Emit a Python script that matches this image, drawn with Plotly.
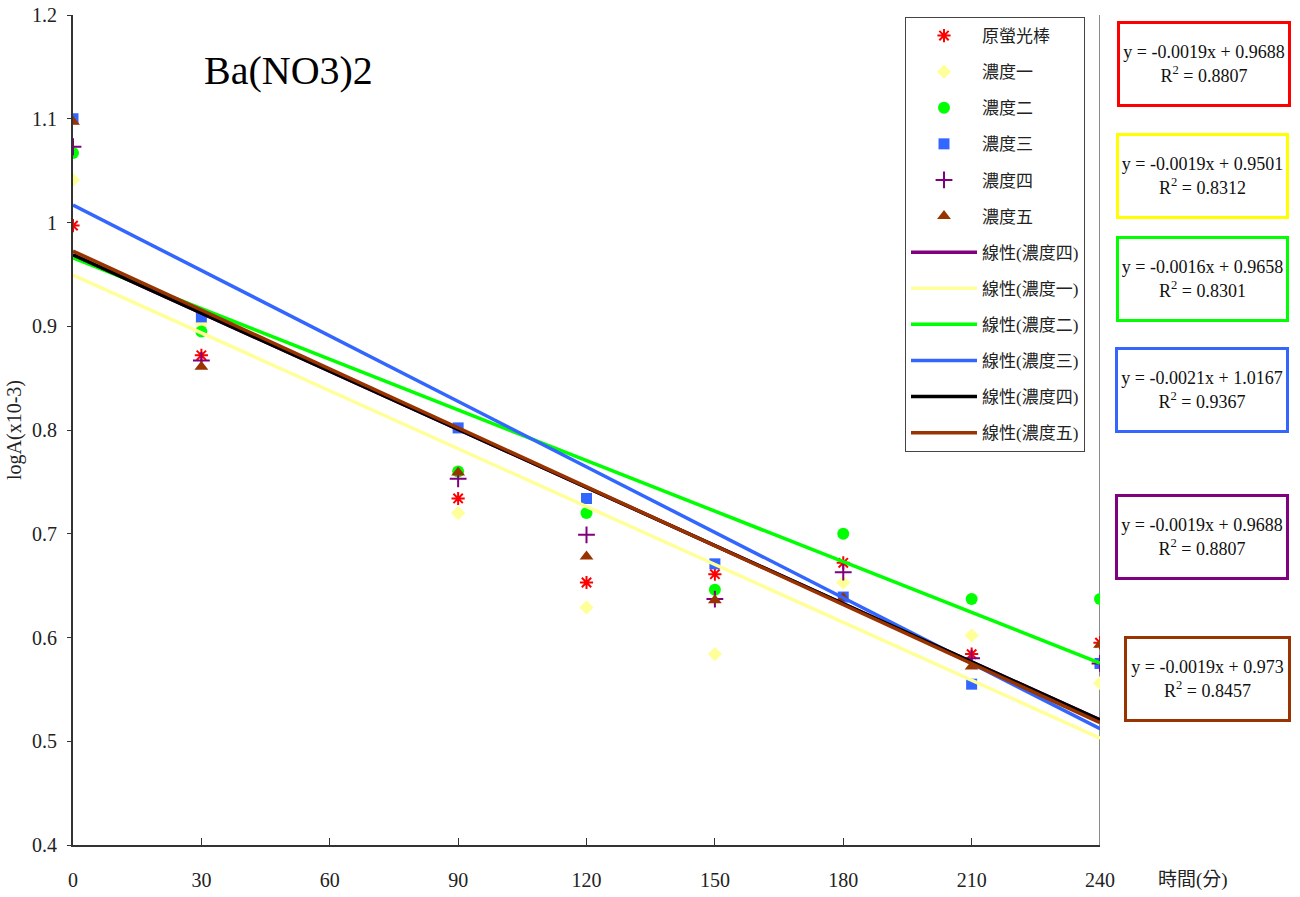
import plotly.graph_objects as go

# ---------------- data ----------------
times = [0, 30, 90, 120, 150, 180, 210, 240]
orig_glow = [0.997, 0.872, 0.734, 0.653, 0.661, 0.672, 0.584, 0.595]
conc1 = [1.041, 0.903, 0.720, 0.629, 0.584, 0.653, 0.602, 0.556]
conc2 = [1.067, 0.895, 0.760, 0.720, 0.646, 0.700, 0.637, 0.637]
conc3 = [1.100, 0.909, 0.802, 0.734, 0.671, 0.639, 0.555, 0.575]
conc4 = [1.073, 0.867, 0.753, 0.699, 0.637, 0.663, 0.580, 0.575]
conc5 = [1.097, 0.861, 0.759, 0.678, 0.636, 0.638, 0.572, 0.593]

trend_x = [0, 240]
trend_purple = [0.9688, 0.5205]
trend_yellow = [0.9494, 0.5030]
trend_green = [0.9658, 0.5754]
trend_blue = [1.0169, 0.5120]
trend_black = [0.9688, 0.5205]
trend_brown = [0.9725, 0.5180]

x_ticks = [0, 30, 60, 90, 120, 150, 180, 210, 240]
y_ticks = [0.4, 0.5, 0.6, 0.7, 0.8, 0.9, 1.0, 1.1, 1.2]
y_ticktext = ["0.4", "0.5", "0.6", "0.7", "0.8", "0.9", "1", "1.1", "1.2"]

eq_texts = [
    "y = -0.0019x + 0.9688<br>R<sup>2</sup> = 0.8807",
    "y = -0.0019x + 0.9501<br>R<sup>2</sup> = 0.8312",
    "y = -0.0016x + 0.9658<br>R<sup>2</sup> = 0.8301",
    "y = -0.0021x + 1.0167<br>R<sup>2</sup> = 0.9367",
    "y = -0.0019x + 0.9688<br>R<sup>2</sup> = 0.8807",
    "y = -0.0019x + 0.973<br>R<sup>2</sup> = 0.8457",
]
eq_colors = ["#FF0000", "#FFFF00", "#00FF00", "#3366FF", "#800080", "#993300"]

# ---------------- layout helpers ----------------
W, H = 1300, 897
ML, MR, MT, MB = 73, 200, 15, 52
PW, PH = W - ML - MR, H - MT - MB


def px2paper_x(px):
    return (px - ML) / PW


def px2paper_y(py):
    return (H - MB - py) / PH


FONT = "Liberation Serif, Noto Sans CJK TC, serif"

fig = go.Figure()

marker_series = [
    ("原螢光棒", orig_glow, dict(symbol="asterisk-open", size=11, color="#FF0000", line=dict(width=2, color="#FF0000"))),
    ("濃度一", conc1, dict(symbol="diamond", size=11, color="#FFFF99")),
    ("濃度二", conc2, dict(symbol="circle", size=12, color="#00FF00")),
    ("濃度三", conc3, dict(symbol="square", size=11, color="#3366FF")),
    ("濃度四", conc4, dict(symbol="cross-thin-open", size=12, color="#800080", line=dict(width=2, color="#800080"))),
    ("濃度五", conc5, dict(symbol="triangle-up", size=12, color="#993300")),
]
for i, (name, ys, mk) in enumerate(marker_series):
    fig.add_trace(go.Scatter(x=times, y=ys, mode="markers", name=name, marker=mk,
                             legendgroup=f"g{i}"))

trend_series = [
    ("線性(濃度四)", trend_purple, "#800080"),
    ("線性(濃度一)", trend_yellow, "#FFFF99"),
    ("線性(濃度二)", trend_green, "#00FF00"),
    ("線性(濃度三)", trend_blue, "#3366FF"),
    ("線性(濃度四)", trend_black, "#000000"),
    ("線性(濃度五)", trend_brown, "#993300"),
]
for j, (name, ys, col) in enumerate(trend_series):
    fig.add_trace(go.Scatter(x=trend_x, y=ys, mode="lines", name=name,
                             line=dict(color=col, width=3.5), legendgroup=f"t{j}"))

# equation boxes
box_centers = [(1204, 64), (1202.5, 176.5), (1202.5, 278.5), (1202, 389.5), (1202, 537), (1207.5, 678.5)]
box_widths = [164, 163, 163, 164, 164, 157]
annotations = []
for txt, col, (cx, cy), bw in zip(eq_texts, eq_colors, box_centers, box_widths):
    annotations.append(dict(
        text=txt, xref="paper", yref="paper", x=px2paper_x(cx), y=px2paper_y(cy),
        xanchor="center", yanchor="middle", showarrow=False, align="center",
        font=dict(family=FONT, size=18, color="#111"),
        bordercolor=col, borderwidth=3, borderpad=2, width=bw, height=76,
        bgcolor="white"))

annotations.append(dict(text="Ba(NO3)2", xref="paper", yref="paper",
                        x=px2paper_x(288), y=px2paper_y(70), xanchor="center", yanchor="middle",
                        showarrow=False, font=dict(family=FONT, size=40, color="#000")))
annotations.append(dict(text="時間(分)", xref="paper", yref="paper",
                        x=px2paper_x(1193), y=px2paper_y(880), xanchor="center", yanchor="middle",
                        showarrow=False, font=dict(family=FONT, size=19, color="#222")))

fig.update_layout(
    width=W, height=H, autosize=False,
    margin=dict(l=ML, r=MR, t=MT, b=MB, pad=0, autoexpand=False),
    paper_bgcolor="white", plot_bgcolor="white",
    font=dict(family=FONT, color="#222"),
    showlegend=True,
    legend=dict(x=px2paper_x(905), y=px2paper_y(17), xanchor="left", yanchor="top",
                bgcolor="white", bordercolor="#444", borderwidth=1,
                font=dict(family=FONT, size=17, color="#222"),
                tracegroupgap=11, itemwidth=66),
    annotations=annotations,
    shapes=[dict(type="line", xref="x", yref="y", x0=240, x1=240, y0=0.4, y1=1.2,
                 line=dict(color="#8c8c8c", width=2), layer="below")],
    xaxis=dict(range=[0, 240], tickvals=x_ticks, ticktext=[str(v) for v in x_ticks],
               showline=True, linecolor="#333", linewidth=2, ticks="inside", ticklen=7,
               tickcolor="#333", tickwidth=1, showgrid=False, zeroline=False, automargin=False,
               tickfont=dict(family=FONT, size=20, color="#222"), ticklabelstandoff=16),
    yaxis=dict(range=[0.4, 1.2], tickvals=y_ticks, ticktext=y_ticktext,
               showline=True, linecolor="#333", linewidth=2, ticks="outside", ticklen=4,
               tickcolor="#333", tickwidth=1, showgrid=False, zeroline=False, automargin=False,
               tickfont=dict(family=FONT, size=20, color="#222"), ticklabelstandoff=6,
               title=dict(text="logA(x10-3)", font=dict(family=FONT, size=20, color="#222"), standoff=5)),
)

fig.write_html("out.html")
